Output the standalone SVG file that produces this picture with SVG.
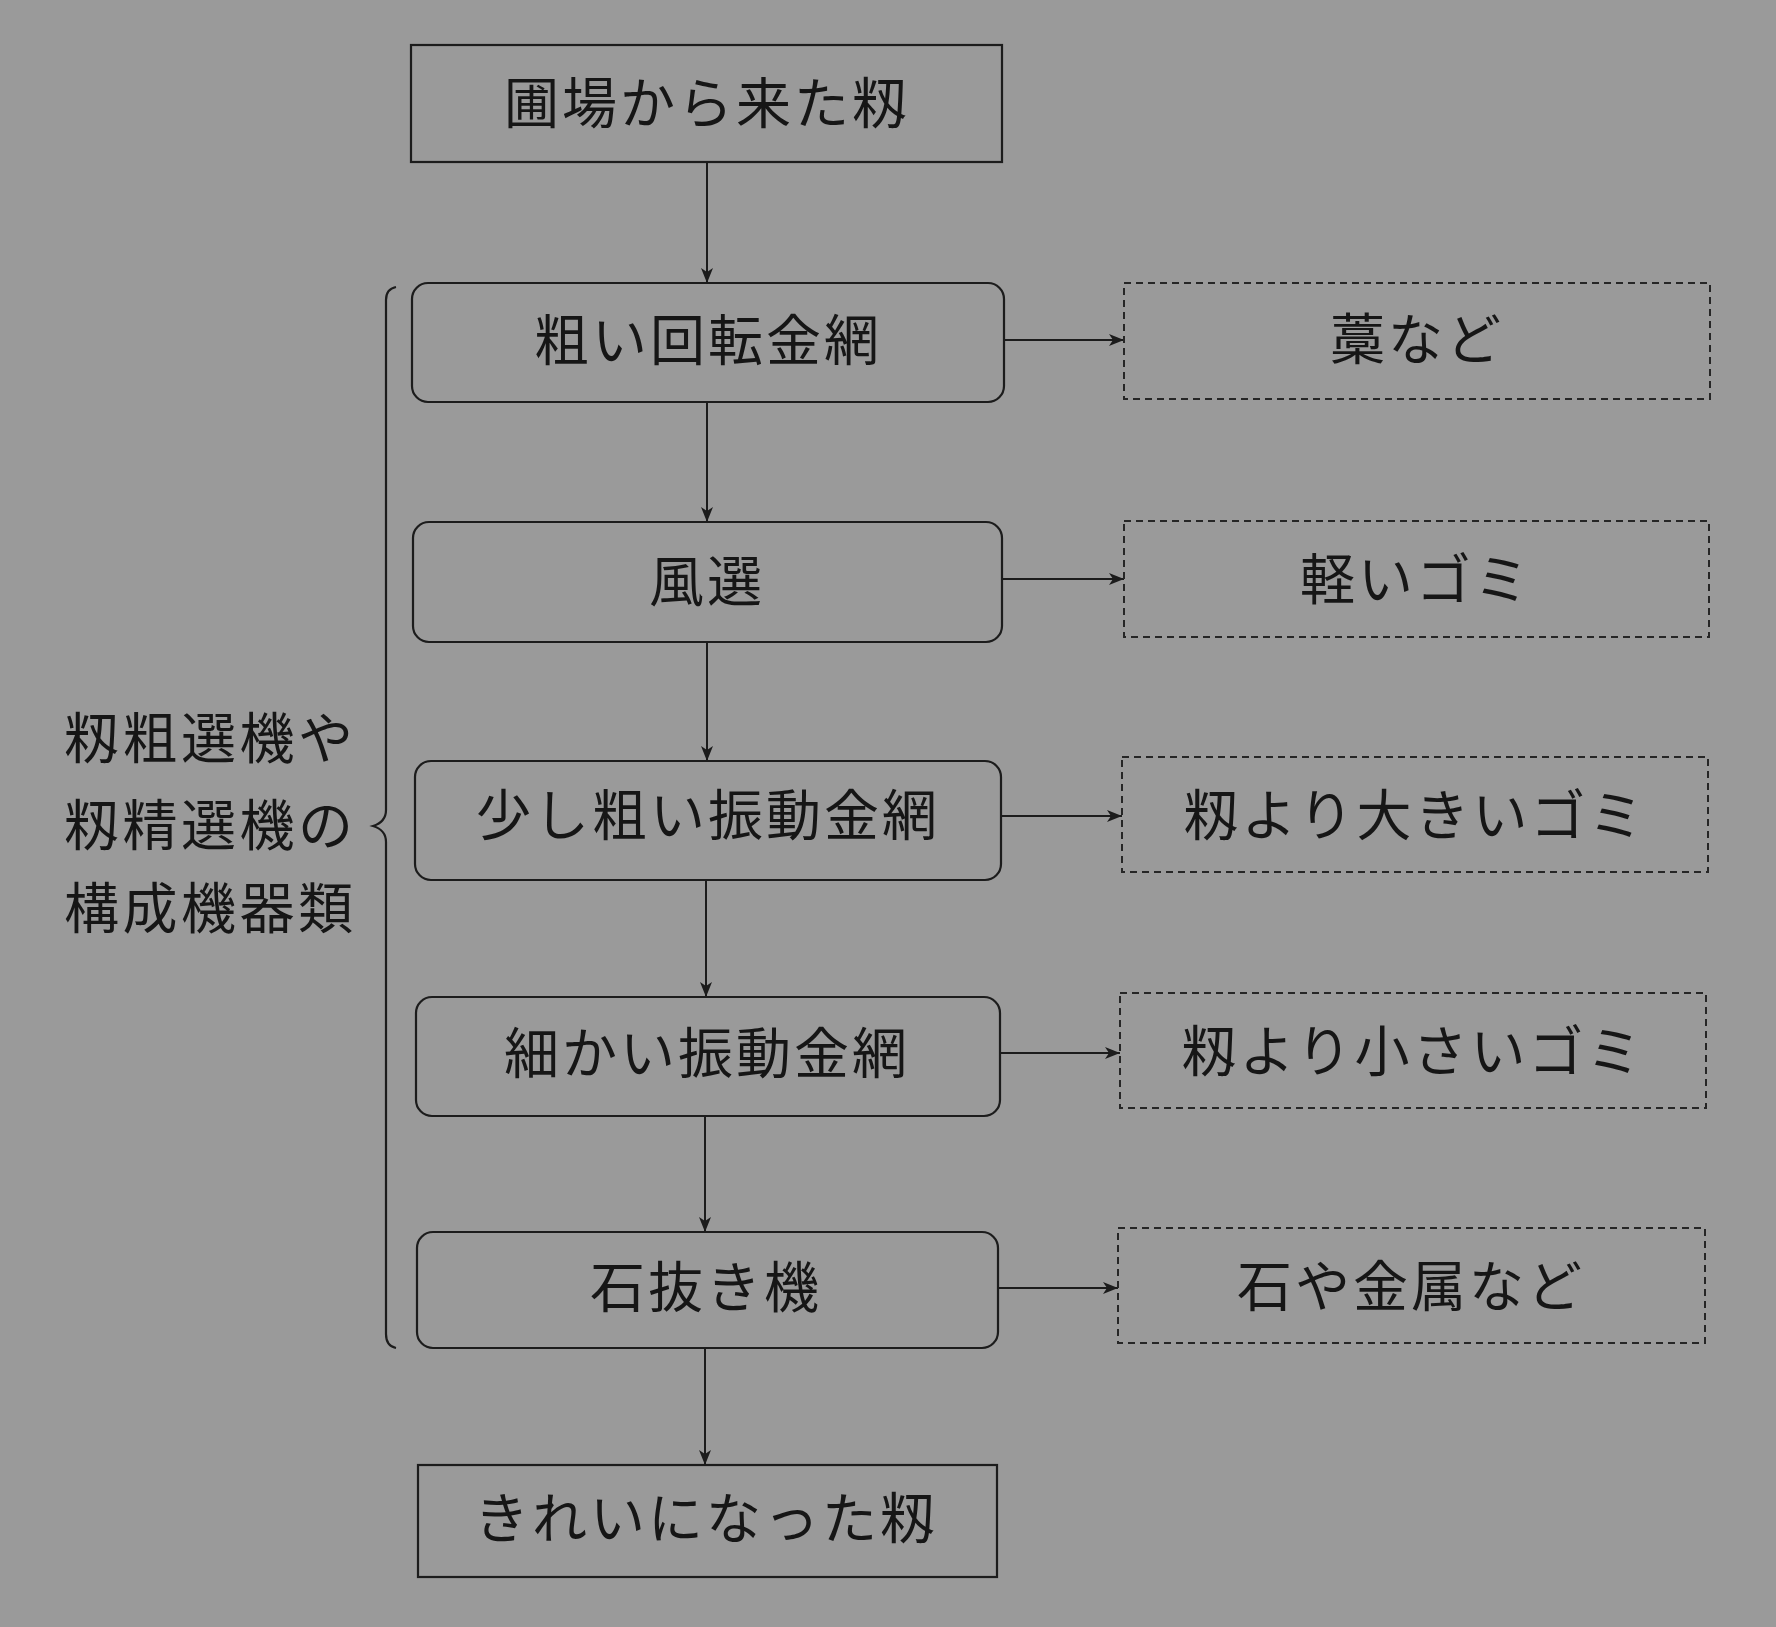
<svg xmlns="http://www.w3.org/2000/svg" width="1776" height="1627" viewBox="0 0 1776 1627">
<defs>
<style>
.t{font-family:"Noto Sans CJK JP","Noto Sans CJK SC",sans-serif;font-size:55px;fill:#161616;text-anchor:middle;dominant-baseline:central;letter-spacing:3px}
.l{font-family:"Noto Sans CJK JP","Noto Sans CJK SC",sans-serif;font-size:55px;fill:#161616;dominant-baseline:central;letter-spacing:3.5px}
.b{fill:none;stroke:#1c1c1c;stroke-width:2.2}
.d{fill:none;stroke:#262626;stroke-width:2;stroke-dasharray:7 5}
.c{fill:none;stroke:#1c1c1c;stroke-width:2;marker-end:url(#ah)}
</style>
<marker id="ah" viewBox="0 0 15 12" refX="15" refY="6" markerWidth="15" markerHeight="12" markerUnits="userSpaceOnUse" orient="auto">
<path d="M0,0 L15,6 L0,12 L4,6 Z" fill="#1c1c1c"/>
</marker>
</defs>
<rect width="1776" height="1627" fill="#9a9a9a"/>
<g id="connectors">
<line class="c" x1="707" y1="162" x2="707" y2="283"/>
<line class="c" x1="707" y1="402" x2="707" y2="522"/>
<line class="c" x1="707" y1="642" x2="707" y2="761"/>
<line class="c" x1="706" y1="880" x2="706" y2="997"/>
<line class="c" x1="705" y1="1116" x2="705" y2="1232"/>
<line class="c" x1="705" y1="1348" x2="705" y2="1465"/>
<line class="c" x1="1004" y1="340" x2="1124" y2="340"/>
<line class="c" x1="1002" y1="579" x2="1124" y2="579"/>
<line class="c" x1="1001" y1="816" x2="1122" y2="816"/>
<line class="c" x1="1000" y1="1053" x2="1120" y2="1053"/>
<line class="c" x1="998" y1="1288" x2="1118" y2="1288"/>
</g>
<g id="start"><rect class="b" x="411" y="45" width="591" height="117"/><text class="t" x="707" y="99">圃場から来た籾</text></g>
<g id="n1"><rect class="b" x="412" y="283" width="592" height="119" rx="16"/><text class="t" x="708" y="336">粗い回転金網</text></g>
<g id="n2"><rect class="b" x="413" y="522" width="589" height="120" rx="16"/><text class="t" x="707" y="577">風選</text></g>
<g id="n3"><rect class="b" x="415" y="761" width="586" height="119" rx="16"/><text class="t" x="708" y="811">少し粗い振動金網</text></g>
<g id="n4"><rect class="b" x="416" y="997" width="584" height="119" rx="16"/><text class="t" x="707" y="1049">細かい振動金網</text></g>
<g id="n5"><rect class="b" x="417" y="1232" width="581" height="116" rx="16"/><text class="t" x="706" y="1283">石抜き機</text></g>
<g id="end"><rect class="b" x="418" y="1465" width="579" height="112"/><text class="t" x="706" y="1514">きれいになった籾</text></g>
<g id="o1"><rect class="d" x="1124" y="283" width="586" height="116"/><text class="t" x="1417" y="335">藁など</text></g>
<g id="o2"><rect class="d" x="1124" y="521" width="585" height="116"/><text class="t" x="1416" y="575">軽いゴミ</text></g>
<g id="o3"><rect class="d" x="1122" y="757" width="586" height="115"/><text class="t" x="1415" y="811">籾より大きいゴミ</text></g>
<g id="o4"><rect class="d" x="1120" y="993" width="586" height="115"/><text class="t" x="1413" y="1047">籾より小さいゴミ</text></g>
<g id="o5"><rect class="d" x="1118" y="1228" width="587" height="115"/><text class="t" x="1411" y="1282">石や金属など</text></g>
<g id="group-label">
<path class="b" d="M396,287 Q386,289 386,300 L386,810 Q386,822 373,826 Q386,830 386,842 L386,1334 Q386,1346 396,1348" stroke-width="2"/>
<text class="l" x="64" y="734">籾粗選機や</text>
<text class="l" x="64" y="821">籾精選機の</text>
<text class="l" x="64" y="904">構成機器類</text>
</g>
</svg>
